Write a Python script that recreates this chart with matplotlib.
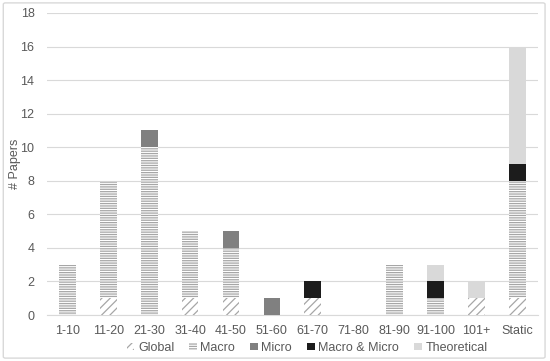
import matplotlib.pyplot as plt
import numpy as np
from matplotlib.patches import FancyBboxPatch

categories = ['1-10', '11-20', '21-30', '31-40', '41-50', '51-60', '61-70',
              '71-80', '81-90', '91-100', '101+', 'Static']
global_ = [0, 1, 0, 1, 1, 0, 1, 0, 0, 0, 1, 1]
macro = [3, 7, 10, 4, 3, 0, 0, 0, 3, 1, 0, 7]
micro = [0, 0, 1, 0, 1, 1, 0, 0, 0, 0, 0, 0]
macro_micro = [0, 0, 0, 0, 0, 0, 1, 0, 0, 1, 0, 1]
theoretical = [0, 0, 0, 0, 0, 0, 0, 0, 0, 1, 1, 7]

plt.rcParams['font.family'] = ['Liberation Sans', 'DejaVu Sans']
plt.rcParams['hatch.linewidth'] = 0.9

fig = plt.figure(figsize=(5.5, 3.61), dpi=100)
ax = fig.add_axes([0.0855, 0.1274, 0.892, 0.8366])

# light frame around the whole chart
fig.patches.append(FancyBboxPatch((0.006, 0.008), 0.985, 0.984, boxstyle='round,pad=0,rounding_size=0.004',
                                  transform=fig.transFigure, fill=False, edgecolor='#d9d9d9', linewidth=1))

x = np.arange(len(categories))
w = 0.41
series = [
    ('Global', global_, dict(color='white', edgecolor='#a6a6a6', hatch='////')),
    ('Macro', macro, dict(color='white', edgecolor='#a6a6a6', hatch='-------')),
    ('Micro', micro, dict(color='#808080')),
    ('Macro & Micro', macro_micro, dict(color='#1c1c1c')),
    ('Theoretical', theoretical, dict(color='#d9d9d9')),
]
bottom = np.zeros(len(categories))
for name, vals, style in series:
    vals = np.array(vals, dtype=float)
    ax.bar(x, vals, w, bottom=bottom, label=name, linewidth=0, zorder=3, **style)
    bottom += vals

ax.set_xlim(-0.5, len(categories) - 0.5)
ax.set_ylim(0, 18)
ax.set_yticks(range(0, 19, 2))
ax.set_xticks(x)
ax.set_xticklabels(categories)
ax.grid(axis='y', color='#d9d9d9', linewidth=0.8, zorder=0)
for s in ['top', 'right', 'left']:
    ax.spines[s].set_visible(False)
ax.spines['bottom'].set_color('#d9d9d9')
ax.tick_params(axis='both', length=0, colors='#595959', labelsize=9)
ax.tick_params(axis='x', pad=7)
ax.tick_params(axis='y', pad=9)
ax.set_ylabel('# Papers', fontsize=9, color='#595959')
ax.yaxis.set_label_coords(-0.054, 0.5)

ax.legend(loc='upper center', bbox_to_anchor=(0.53, -0.06), ncol=5, frameon=False,
          fontsize=9, labelcolor='#595959', handlelength=0.6, handleheight=0.6,
          handletextpad=0.3, columnspacing=1.2, borderpad=0.2)

fig.savefig('out.png', dpi=100)
